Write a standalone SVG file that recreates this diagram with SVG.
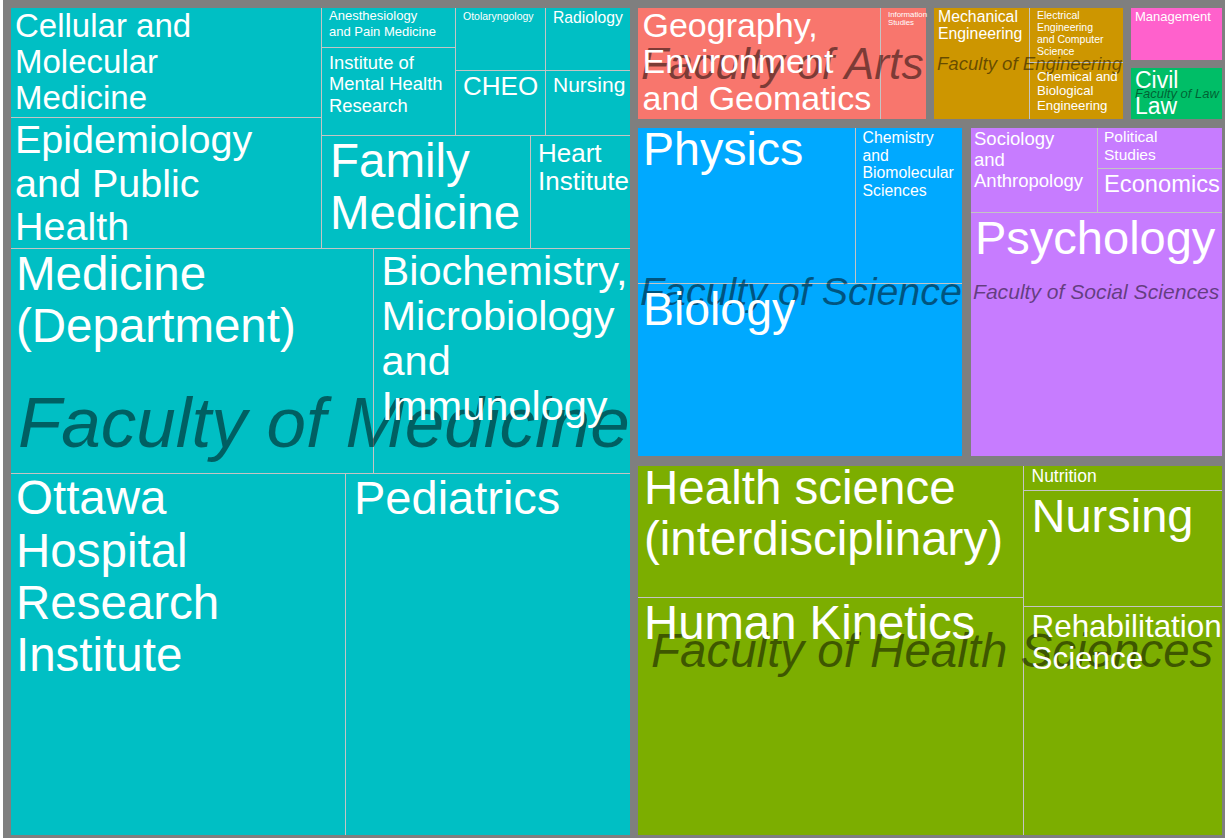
<svg xmlns="http://www.w3.org/2000/svg" width="1225" height="838" viewBox="0 0 1225 838">
<style>
.tile{stroke:#C4C4C4;stroke-width:1;shape-rendering:crispEdges}
.frame{fill:none;stroke:#7F7F7F;stroke-width:8;shape-rendering:crispEdges}
.med{fill:#00BFC4}.arts{fill:#F8766D}.eng{fill:#CD9600}.mgmt{fill:#FF61CC}.law{fill:#00BE67}.sci{fill:#00A9FF}.soc{fill:#C77CFF}.hlth{fill:#7CAE00}
.lab{fill:#FFFFFF;font-family:"Liberation Sans",Arial,sans-serif}
.fac{fill:#000000;fill-opacity:0.5;font-family:"Liberation Sans",Arial,sans-serif;font-style:italic}
</style>
<rect x="0" y="0" width="1225" height="838" fill="#FFFFFF"/>
<rect x="7" y="4" width="1218" height="834" fill="#7F7F7F"/>

<g id="tiles">
<!-- Faculty of Medicine -->
<g id="cellular-molecular-medicine"><rect class="tile med" x="7" y="4" width="314" height="113"/></g>
<g id="epidemiology-public-health"><rect class="tile med" x="7" y="117" width="314" height="131"/></g>
<g id="anesthesiology"><rect class="tile med" x="321" y="4" width="134" height="43.5"/></g>
<g id="institute-mental-health"><rect class="tile med" x="321" y="47.5" width="134" height="87.5"/></g>
<g id="otolaryngology"><rect class="tile med" x="455" y="4" width="90" height="66"/></g>
<g id="radiology"><rect class="tile med" x="545" y="4" width="89" height="66"/></g>
<g id="cheo"><rect class="tile med" x="455" y="70" width="90" height="65"/></g>
<g id="nursing-med"><rect class="tile med" x="545" y="70" width="89" height="65"/></g>
<g id="family-medicine"><rect class="tile med" x="321" y="135" width="209" height="113"/></g>
<g id="heart-institute"><rect class="tile med" x="530" y="135" width="104" height="113"/></g>
<g id="medicine-department"><rect class="tile med" x="7" y="248" width="366" height="225"/></g>
<g id="biochemistry"><rect class="tile med" x="373" y="248" width="261" height="225"/></g>
<g id="ohri"><rect class="tile med" x="7" y="473" width="338" height="366"/></g>
<g id="pediatrics"><rect class="tile med" x="345" y="473" width="289" height="366"/></g>
<!-- Faculty of Arts -->
<g id="geography"><rect class="tile arts" x="634" y="4" width="246" height="119"/></g>
<g id="information-studies"><rect class="tile arts" x="880" y="4" width="50" height="119"/></g>
<!-- Faculty of Engineering -->
<g id="mechanical-engineering"><rect class="tile eng" x="930" y="4" width="99" height="119"/></g>
<g id="eecs"><rect class="tile eng" x="1029" y="4" width="98" height="58"/></g>
<g id="chemical-biological-engineering"><rect class="tile eng" x="1029" y="62" width="98" height="61"/></g>
<!-- Management / Law -->
<g id="management"><rect class="tile mgmt" x="1127" y="4" width="99" height="60"/></g>
<g id="civil-law"><rect class="tile law" x="1127" y="64" width="99" height="59"/></g>
<!-- Faculty of Science -->
<g id="physics"><rect class="tile sci" x="634" y="124" width="221" height="159"/></g>
<g id="chemistry"><rect class="tile sci" x="855" y="124" width="111" height="159"/></g>
<g id="biology"><rect class="tile sci" x="634" y="283" width="332" height="177"/></g>
<!-- Faculty of Social Sciences -->
<g id="sociology"><rect class="tile soc" x="966" y="124" width="131" height="88"/></g>
<g id="political-studies"><rect class="tile soc" x="1097" y="124" width="129" height="44"/></g>
<g id="economics"><rect class="tile soc" x="1097" y="168" width="129" height="44"/></g>
<g id="psychology"><rect class="tile soc" x="966" y="212" width="260" height="248"/></g>
<!-- Faculty of Health Sciences -->
<g id="health-science"><rect class="tile hlth" x="634" y="462" width="389" height="135.5"/></g>
<g id="human-kinetics"><rect class="tile hlth" x="634" y="597.5" width="389" height="241.5"/></g>
<g id="nutrition"><rect class="tile hlth" x="1023" y="462" width="203" height="28"/></g>
<g id="nursing-health"><rect class="tile hlth" x="1023" y="490" width="203" height="116.5"/></g>
<g id="rehabilitation"><rect class="tile hlth" x="1023" y="606.5" width="203" height="232.5"/></g>
</g>

<g id="faculty-frames">
<rect class="frame" x="7" y="4" width="627" height="835"/>
<rect class="frame" x="634" y="4" width="296" height="119"/>
<rect class="frame" x="930" y="4" width="197" height="119"/>
<rect class="frame" x="1127" y="4" width="99" height="60"/>
<rect class="frame" x="1127" y="64" width="99" height="59"/>
<rect class="frame" x="634" y="124" width="332" height="336"/>
<rect class="frame" x="966.5" y="124" width="259.5" height="336"/>
<rect class="frame" x="634" y="462" width="592" height="377"/>
</g>

<g id="faculty-labels">
<text class="fac" x="18" y="447" font-size="71">Faculty of Medicine</text>
<text class="fac" x="641" y="79" font-size="44.5">Faculty of Arts</text>
<text class="fac" x="937" y="70" font-size="18.6">Faculty of Engineering</text>
<text class="fac" x="1135" y="98" font-size="13">Faculty of Law</text>
<text class="fac" x="640" y="305" font-size="39.4">Faculty of Science</text>
<text class="fac" x="973" y="298.5" font-size="21.1">Faculty of Social Sciences</text>
<text class="fac" x="651" y="667" font-size="47.5">Faculty of Health Sciences</text>
</g>

<g id="tile-labels">
<text class="lab" font-size="33"><tspan x="15" y="36.5">Cellular and</tspan><tspan x="15" y="72.5">Molecular</tspan><tspan x="15" y="108.5">Medicine</tspan></text>
<text class="lab" font-size="39.5"><tspan x="15" y="153">Epidemiology</tspan><tspan x="15" y="196.5">and Public</tspan><tspan x="15" y="240">Health</tspan></text>
<text class="lab" font-size="13"><tspan x="329" y="20">Anesthesiology</tspan><tspan x="329" y="36">and Pain Medicine</tspan></text>
<text class="lab" font-size="18.4"><tspan x="329" y="68.5">Institute of</tspan><tspan x="329" y="90">Mental Health</tspan><tspan x="329" y="111.5">Research</tspan></text>
<text class="lab" x="463" y="19.5" font-size="10.5">Otolaryngology</text>
<text class="lab" x="553" y="23" font-size="15.7">Radiology</text>
<text class="lab" x="463" y="95" font-size="26">CHEO</text>
<text class="lab" x="553" y="92" font-size="21">Nursing</text>
<text class="lab" font-size="47.5"><tspan x="330" y="177">Family</tspan><tspan x="330" y="229">Medicine</tspan></text>
<text class="lab" font-size="26"><tspan x="538" y="162">Heart</tspan><tspan x="538" y="190">Institute</tspan></text>
<text class="lab" font-size="47.5"><tspan x="16" y="289.5">Medicine</tspan><tspan x="16" y="341.5">(Department)</tspan></text>
<text class="lab" font-size="41.5"><tspan x="381.5" y="285">Biochemistry,</tspan><tspan x="381.5" y="330">Microbiology</tspan><tspan x="381.5" y="375">and</tspan><tspan x="381.5" y="420">Immunology</tspan></text>
<text class="lab" font-size="47.5"><tspan x="16" y="514">Ottawa</tspan><tspan x="16" y="566.5">Hospital</tspan><tspan x="16" y="619">Research</tspan><tspan x="16" y="671">Institute</tspan></text>
<text class="lab" x="354" y="514" font-size="47">Pediatrics</text>

<text class="lab" font-size="34"><tspan x="642.5" y="36.5">Geography,</tspan><tspan x="642.5" y="73.3">Environment</tspan><tspan x="642.5" y="110">and Geomatics</tspan></text>
<text class="lab" font-size="7.8"><tspan x="888" y="17">Information</tspan><tspan x="888" y="24.5">Studies</tspan></text>

<text class="lab" font-size="15.8"><tspan x="938" y="22">Mechanical</tspan><tspan x="938" y="39">Engineering</tspan></text>
<text class="lab" font-size="10.5"><tspan x="1037" y="19">Electrical</tspan><tspan x="1037" y="31">Engineering</tspan><tspan x="1037" y="43">and Computer</tspan><tspan x="1037" y="55">Science</tspan></text>
<text class="lab" font-size="13.2"><tspan x="1037" y="81">Chemical and</tspan><tspan x="1037" y="95">Biological</tspan><tspan x="1037" y="109.5">Engineering</tspan></text>
<text class="lab" x="1135" y="20.5" font-size="13">Management</text>
<text class="lab" font-size="23"><tspan x="1135" y="87.5">Civil</tspan><tspan x="1135" y="113.5">Law</tspan></text>

<text class="lab" x="643" y="165" font-size="46.5">Physics</text>
<text class="lab" font-size="15.8"><tspan x="862.5" y="143">Chemistry</tspan><tspan x="862.5" y="160.5">and</tspan><tspan x="862.5" y="178">Biomolecular</tspan><tspan x="862.5" y="195.5">Sciences</tspan></text>
<text class="lab" x="643" y="325" font-size="46.4">Biology</text>

<text class="lab" font-size="18.5"><tspan x="974" y="145">Sociology</tspan><tspan x="974" y="166">and</tspan><tspan x="974" y="187">Anthropology</tspan></text>
<text class="lab" font-size="15.5"><tspan x="1104" y="142">Political</tspan><tspan x="1104" y="159.5">Studies</tspan></text>
<text class="lab" x="1104" y="192" font-size="23.7">Economics</text>
<text class="lab" x="975" y="253.5" font-size="47">Psychology</text>

<text class="lab" font-size="47.5"><tspan x="644" y="503.5">Health science</tspan><tspan x="644" y="554.5">(interdisciplinary)</tspan></text>
<text class="lab" x="644" y="638.5" font-size="47.3">Human Kinetics</text>
<text class="lab" x="1031.5" y="482" font-size="17.5">Nutrition</text>
<text class="lab" x="1031.5" y="532" font-size="47">Nursing</text>
<text class="lab" font-size="31.4"><tspan x="1031.5" y="637">Rehabilitation</tspan><tspan x="1031.5" y="668.5">Science</tspan></text>
</g>
</svg>
